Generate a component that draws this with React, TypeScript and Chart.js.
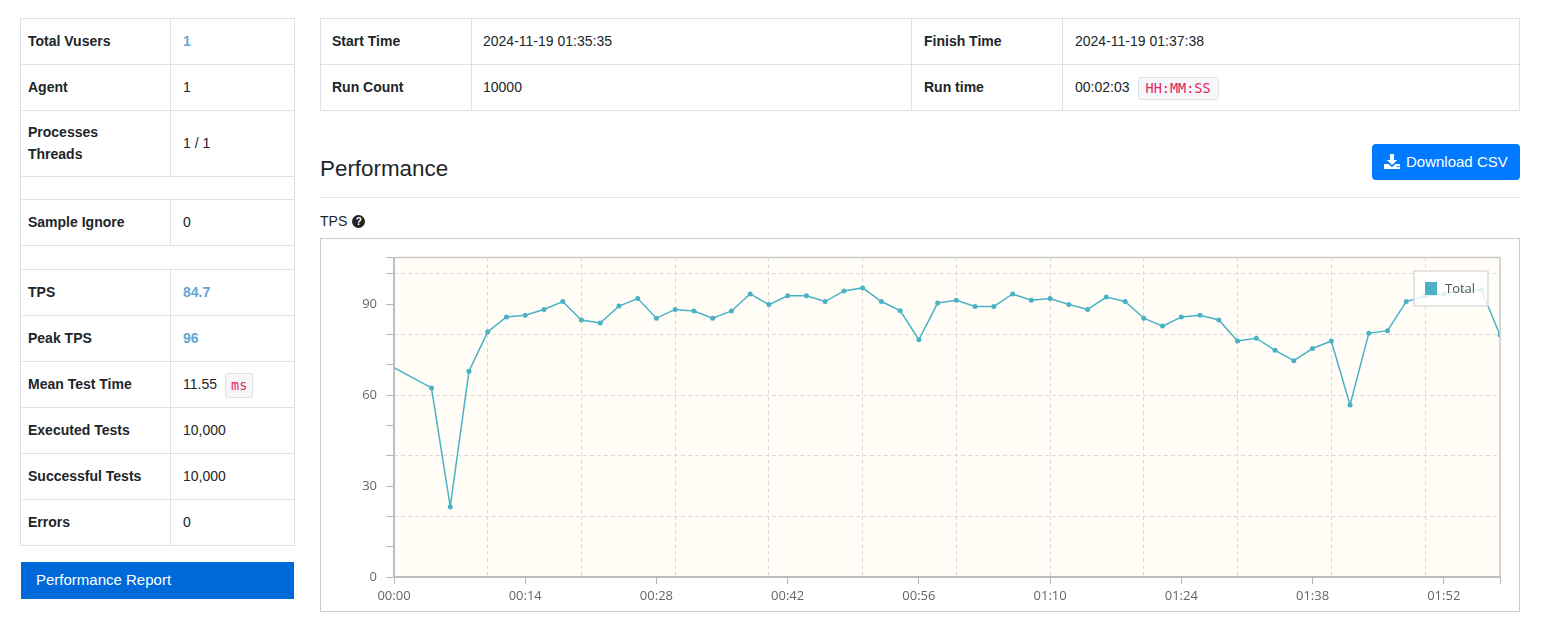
import React, { useEffect, useRef } from 'react';
import { Chart, registerables } from 'chart.js';

Chart.register(...registerables);

// ---------- chart data ----------
const TIME_SECONDS = [
  0, 4, 6, 8, 10, 12, 14, 16, 18, 20, 22,
  24, 26, 28, 30, 32, 34, 36, 38, 40, 42,
  44, 46, 48, 50, 52, 54, 56, 58, 60, 62,
  64, 66, 68, 70, 72, 74, 76, 78, 80, 82,
  84, 86, 88, 90, 92, 94, 96, 98, 100, 102,
  104, 106, 108, 110, 112, 114, 116, 118,
];
const TPS_TOTAL = [
  69.1, 62.4, 23.2, 67.9, 80.9, 85.8, 86.4, 88.3, 90.9, 84.8, 83.8,
  89.4, 91.9, 85.4, 88.3, 87.8, 85.4, 87.8, 93.4, 89.9, 92.8,
  92.8, 90.9, 94.4, 95.4, 90.9, 87.9, 78.3, 90.4, 91.3, 89.3,
  89.3, 93.4, 91.3, 91.9, 89.9, 88.3, 92.4, 90.9, 85.4, 82.8,
  85.8, 86.4, 84.8, 77.9, 78.8, 74.8, 71.4, 75.4, 77.9, 56.8,
  80.4, 81.3, 90.9, 92.7, 93.4, 94.6, 94.8, 79.9,
];
const SERIES_LABEL = 'Total';

const X_TICK_SECONDS = [0, 14, 28, 42, 56, 70, 84, 98, 112];
const X_TICK_LABELS = ['00:00', '00:14', '00:28', '00:42', '00:56', '01:10', '01:24', '01:38', '01:52'];
const X_GRID_SECONDS = [10, 20, 30, 40, 50, 60, 70, 80, 90, 100, 110];
const X_MAX = 118;

const Y_TICK_MARKS = [0, 10, 20, 30, 40, 50, 60, 70, 80, 90, 100];
const Y_TICK_LABELS = [0, 30, 60, 90];
const Y_GRID_VALUES = [20, 40, 60, 80, 100];
const Y_MAX = 105.6;

// ---------- page text ----------
const LEFT_ROWS = [
  { label: ['Total Vusers'], value: '1', accent: true },
  { label: ['Agent'], value: '1' },
  { label: ['Processes', 'Threads'], value: '1 / 1' },
  { spacer: true },
  { label: ['Sample Ignore'], value: '0' },
  { spacer: true },
  { label: ['TPS'], value: '84.7', accent: true },
  { label: ['Peak TPS'], value: '96', accent: true },
  { label: ['Mean Test Time'], value: '11.55', unit: 'ms' },
  { label: ['Executed Tests'], value: '10,000' },
  { label: ['Successful Tests'], value: '10,000' },
  { label: ['Errors'], value: '0' },
];
const LEFT_ROW_LINES = [18, 64, 110, 176, 199, 245, 269, 315, 361, 407, 453, 499, 545];

const RIGHT_ROWS = [
  ['Start Time', '2024-11-19 01:35:35', 'Finish Time', '2024-11-19 01:37:38', ''],
  ['Run Count', '10000', 'Run time', '00:02:03', 'HH:MM:SS'],
];

const LINE_COLOR = '#4bb2c5';
const GRID_COLOR = '#dadada';
const TICK_COLOR = '#b5b5b5';
const CLEAR = 'rgba(0,0,0,0)';
const CHART_FONT = '"Open Sans", "DejaVu Sans", sans-serif';

const uniqSorted = (arr: number[]) => Array.from(new Set(arr)).sort((a, b) => a - b);

const decorPlugin = {
  id: 'decor',
  beforeDraw(chart: any) {
    const { ctx, chartArea: a } = chart;
    ctx.save();
    ctx.fillStyle = '#fffdf6';
    ctx.fillRect(a.left, a.top, a.right - a.left, a.bottom - a.top);
    ctx.restore();
  },
  afterDatasetsDraw(chart: any) {
    const { ctx, chartArea: a } = chart;
    ctx.save();
    ctx.strokeStyle = '#c9c9c9';
    ctx.lineWidth = 1.5;
    ctx.beginPath();
    ctx.moveTo(a.left, a.top + 0.5);
    ctx.lineTo(a.right, a.top + 0.5);
    ctx.moveTo(a.right, a.top);
    ctx.lineTo(a.right, a.bottom);
    ctx.stroke();
    ctx.strokeStyle = '#bdbdbd';
    ctx.lineWidth = 2;
    ctx.beginPath();
    ctx.moveTo(a.left, a.top);
    ctx.lineTo(a.left, a.bottom);
    ctx.lineTo(a.right, a.bottom);
    ctx.stroke();
    ctx.restore();
  },
  afterDraw(chart: any) {
    const { ctx, chartArea: a } = chart;
    const ds = chart.data.datasets[0];
    const x = a.right - 86;
    const y = a.top + 14;
    ctx.save();
    ctx.fillStyle = 'rgba(255,255,255,0.82)';
    ctx.fillRect(x, y, 74, 35);
    ctx.strokeStyle = '#dcdcdc';
    ctx.lineWidth = 1.5;
    ctx.strokeRect(x, y, 74, 35);
    ctx.fillStyle = ds.borderColor;
    ctx.fillRect(x + 11, y + 11, 12, 13);
    ctx.fillStyle = '#555';
    ctx.font = `13px ${CHART_FONT}`;
    ctx.textBaseline = 'middle';
    ctx.fillText(ds.label, x + 31, y + 18.5);
    ctx.restore();
  },
};

function TpsChart() {
  const ref = useRef<HTMLCanvasElement | null>(null);
  useEffect(() => {
    if (!ref.current) return;
    const chart = new Chart(ref.current, {
      type: 'line',
      data: {
        datasets: [
          {
            label: SERIES_LABEL,
            data: TIME_SECONDS.map((t, i) => ({ x: t, y: TPS_TOTAL[i] })),
            borderColor: LINE_COLOR,
            backgroundColor: LINE_COLOR,
            borderWidth: 1.5,
            pointRadius: (c: any) => (c.dataIndex === 0 ? 0 : 2.5),
            pointBorderWidth: 0,
            pointBackgroundColor: LINE_COLOR,
            tension: 0,
            fill: false,
          },
        ],
      },
      options: {
        animation: false,
        responsive: false,
        events: [],
        layout: { padding: { left: 0, top: 18, right: 19, bottom: 0 } },
        plugins: { legend: { display: false }, tooltip: { enabled: false } },
        scales: {
          x: {
            type: 'linear',
            min: 0,
            max: X_MAX,
            afterBuildTicks: (scale: any) => {
              scale.ticks = uniqSorted([...X_TICK_SECONDS, ...X_GRID_SECONDS, X_MAX]).map((v) => ({ value: v }));
            },
            afterFit: (scale: any) => {
              scale.height = 34;
            },
            grid: {
              color: (c: any) => (X_GRID_SECONDS.includes(c.tick?.value) ? GRID_COLOR : CLEAR),
              tickColor: (c: any) =>
                X_TICK_SECONDS.includes(c.tick?.value) || c.tick?.value === X_MAX ? TICK_COLOR : CLEAR,
              tickLength: 7,
              lineWidth: 1,
              tickWidth: 1,
            },
            border: { display: false, dash: [4, 3] },
            ticks: {
              autoSkip: false,
              maxRotation: 0,
              minRotation: 0,
              padding: 4,
              color: '#666',
              font: { family: CHART_FONT, size: 13 },
              callback: (v: any) => {
                const i = X_TICK_SECONDS.indexOf(Number(v));
                return i >= 0 ? X_TICK_LABELS[i] : '';
              },
            },
          },
          y: {
            type: 'linear',
            min: 0,
            max: Y_MAX,
            afterBuildTicks: (scale: any) => {
              scale.ticks = uniqSorted([...Y_TICK_MARKS, ...Y_GRID_VALUES, Y_MAX]).map((v) => ({ value: v }));
            },
            afterFit: (scale: any) => {
              scale.width = 73;
            },
            grid: {
              color: (c: any) => (Y_GRID_VALUES.includes(c.tick?.value) ? GRID_COLOR : CLEAR),
              tickColor: (c: any) =>
                Y_TICK_MARKS.includes(c.tick?.value) || c.tick?.value === Y_MAX ? TICK_COLOR : CLEAR,
              tickLength: 8,
              lineWidth: 1,
              tickWidth: 1,
            },
            border: { display: false, dash: [4, 3] },
            ticks: {
              autoSkip: false,
              padding: 9,
              color: '#666',
              font: { family: CHART_FONT, size: 13 },
              callback: (v: any) => (Y_TICK_LABELS.includes(Number(v)) ? String(v) : ''),
            },
          },
        },
      },
      plugins: [decorPlugin],
    } as any);
    return () => chart.destroy();
  }, []);
  return <canvas ref={ref} width={1198} height={372} style={{ display: 'block', width: 1198, height: 372 }} />;
}

const codeStyle: React.CSSProperties = {
  fontFamily: '"DejaVu Sans Mono", "Liberation Mono", monospace',
  fontSize: 13.5,
  lineHeight: '15px',
  color: '#e0245e',
  background: '#f7f7f9',
  border: '1px solid #e1e1e8',
  borderRadius: 3,
  display: 'inline-block',
};

const BORDER = '#dee2e6';

function LeftTable() {
  return (
    <>
      {LEFT_ROWS.map((r: any, i) => {
        const top = LEFT_ROW_LINES[i];
        const h = LEFT_ROW_LINES[i + 1] - top + 1;
        return (
          <div
            key={i}
            style={{
              position: 'absolute',
              left: 20,
              top,
              width: 275,
              height: h,
              border: `1px solid ${BORDER}`,
              boxSizing: 'border-box',
            }}
          >
            {!r.spacer && (
              <>
                <div
                  style={{
                    position: 'absolute',
                    left: 0,
                    top: 0,
                    width: 149,
                    height: '100%',
                    display: 'flex',
                    flexDirection: 'column',
                    justifyContent: 'center',
                    paddingLeft: 7,
                    paddingBottom: 2,
                    boxSizing: 'border-box',
                    fontWeight: 'bold',
                    lineHeight: '22px',
                  }}
                >
                  {r.label.map((l: string) => (
                    <div key={l}>{l}</div>
                  ))}
                </div>
                <div style={{ position: 'absolute', left: 149, top: 0, width: 1, height: '100%', background: BORDER }} />
                <div
                  style={{
                    position: 'absolute',
                    left: 150,
                    top: 0,
                    right: 0,
                    height: '100%',
                    display: 'flex',
                    alignItems: 'center',
                    paddingLeft: 12,
                    paddingBottom: 2,
                    boxSizing: 'border-box',
                    fontWeight: r.accent ? 'bold' : 'normal',
                    color: r.accent ? '#63a7d3' : '#212529',
                  }}
                >
                  <span>{r.value}</span>
                  {r.unit && <span style={{ ...codeStyle, marginLeft: 8, padding: '4px 5px', marginTop: 4 }}>{r.unit}</span>}
                </div>
              </>
            )}
          </div>
        );
      })}
      <div
        style={{
          position: 'absolute',
          left: 21,
          top: 562,
          width: 273,
          height: 37,
          background: '#0069d9',
          color: '#fff',
          fontSize: 15,
          display: 'flex',
          alignItems: 'center',
          paddingLeft: 15,
          paddingBottom: 2,
          boxSizing: 'border-box',
        }}
      >
        Performance Report
      </div>
    </>
  );
}

function RightTable() {
  const cols = [320, 470, 910, 1061, 1519];
  return (
    <>
      {RIGHT_ROWS.map((row, ri) => {
        const top = ri === 0 ? 18 : 64;
        return (
          <div
            key={ri}
            style={{
              position: 'absolute',
              left: 320,
              top,
              width: 1200,
              height: 47,
              border: `1px solid ${BORDER}`,
              boxSizing: 'border-box',
            }}
          >
            {[0, 1, 2, 3].map((ci) => (
              <div
                key={ci}
                style={{
                  position: 'absolute',
                  left: cols[ci] - 320 + (ci === 0 ? 0 : 1) - 1,
                  top: 0,
                  width: cols[ci + 1] - cols[ci],
                  height: '100%',
                  display: 'flex',
                  alignItems: 'center',
                  paddingLeft: ci === 1 ? 11 : 12,
                  paddingBottom: 2,
                  boxSizing: 'border-box',
                  fontWeight: ci % 2 === 0 ? 'bold' : 'normal',
                  borderLeft: ci === 0 ? 'none' : `1px solid ${BORDER}`,
                }}
              >
                <span>{row[ci]}</span>
                {ci === 3 && row[4] && (
                  <span style={{ ...codeStyle, marginLeft: 8, padding: '3px 7px', marginTop: 4 }}>{row[4]}</span>
                )}
              </div>
            ))}
          </div>
        );
      })}
    </>
  );
}

export default function App() {
  return (
    <div
      style={{
        position: 'absolute',
        left: 0,
        top: 0,
        width: 1546,
        height: 638,
        overflow: 'hidden',
        background: '#fff',
        fontFamily: '"Liberation Sans", Arial, sans-serif',
        fontSize: 14,
        color: '#212529',
      }}
    >
      <LeftTable />
      <RightTable />
      <div style={{ position: 'absolute', left: 320, top: 155, fontSize: 22.4, lineHeight: '27px' }}>Performance</div>
      <div
        style={{
          position: 'absolute',
          left: 1372,
          top: 144,
          width: 148,
          height: 36,
          background: '#007bff',
          borderRadius: 4,
          color: '#fff',
          fontSize: 15,
          display: 'flex',
          alignItems: 'center',
          paddingLeft: 12,
          paddingBottom: 2,
          boxSizing: 'border-box',
        }}
      >
        <svg width="16" height="15" viewBox="0 0 16 15" style={{ marginRight: 6 }}>
          <path d="M6 0h4v6h3.2L8 11 2.8 6H6z" fill="#fff" />
          <path d="M0 10h4.6L8 13.2 11.4 10H16v5H0z" fill="#fff" />
          <rect x="12.5" y="12" width="1.2" height="1.2" fill="#007bff" />
          <rect x="14.2" y="12" width="1.2" height="1.2" fill="#007bff" />
        </svg>
        <span>Download CSV</span>
      </div>
      <div style={{ position: 'absolute', left: 320, top: 197, width: 1200, height: 1, background: '#e5e5e5' }} />
      <div
        style={{
          position: 'absolute',
          left: 320,
          top: 212,
          fontSize: 14,
          lineHeight: '18px',
          display: 'flex',
          alignItems: 'center',
        }}
      >
        <span>TPS</span>
        <span
          style={{
            display: 'inline-block',
            width: 13,
            height: 13,
            borderRadius: '50%',
            background: '#222',
            color: '#fff',
            fontSize: 10,
            fontWeight: 'bold',
            lineHeight: '13px',
            textAlign: 'center',
            marginLeft: 5,
          }}
        >
          ?
        </span>
      </div>
      <div
        style={{
          position: 'absolute',
          left: 320,
          top: 238,
          width: 1200,
          height: 374,
          border: '1px solid #cccccc',
          boxSizing: 'border-box',
        }}
      >
        <TpsChart />
      </div>
    </div>
  );
}
